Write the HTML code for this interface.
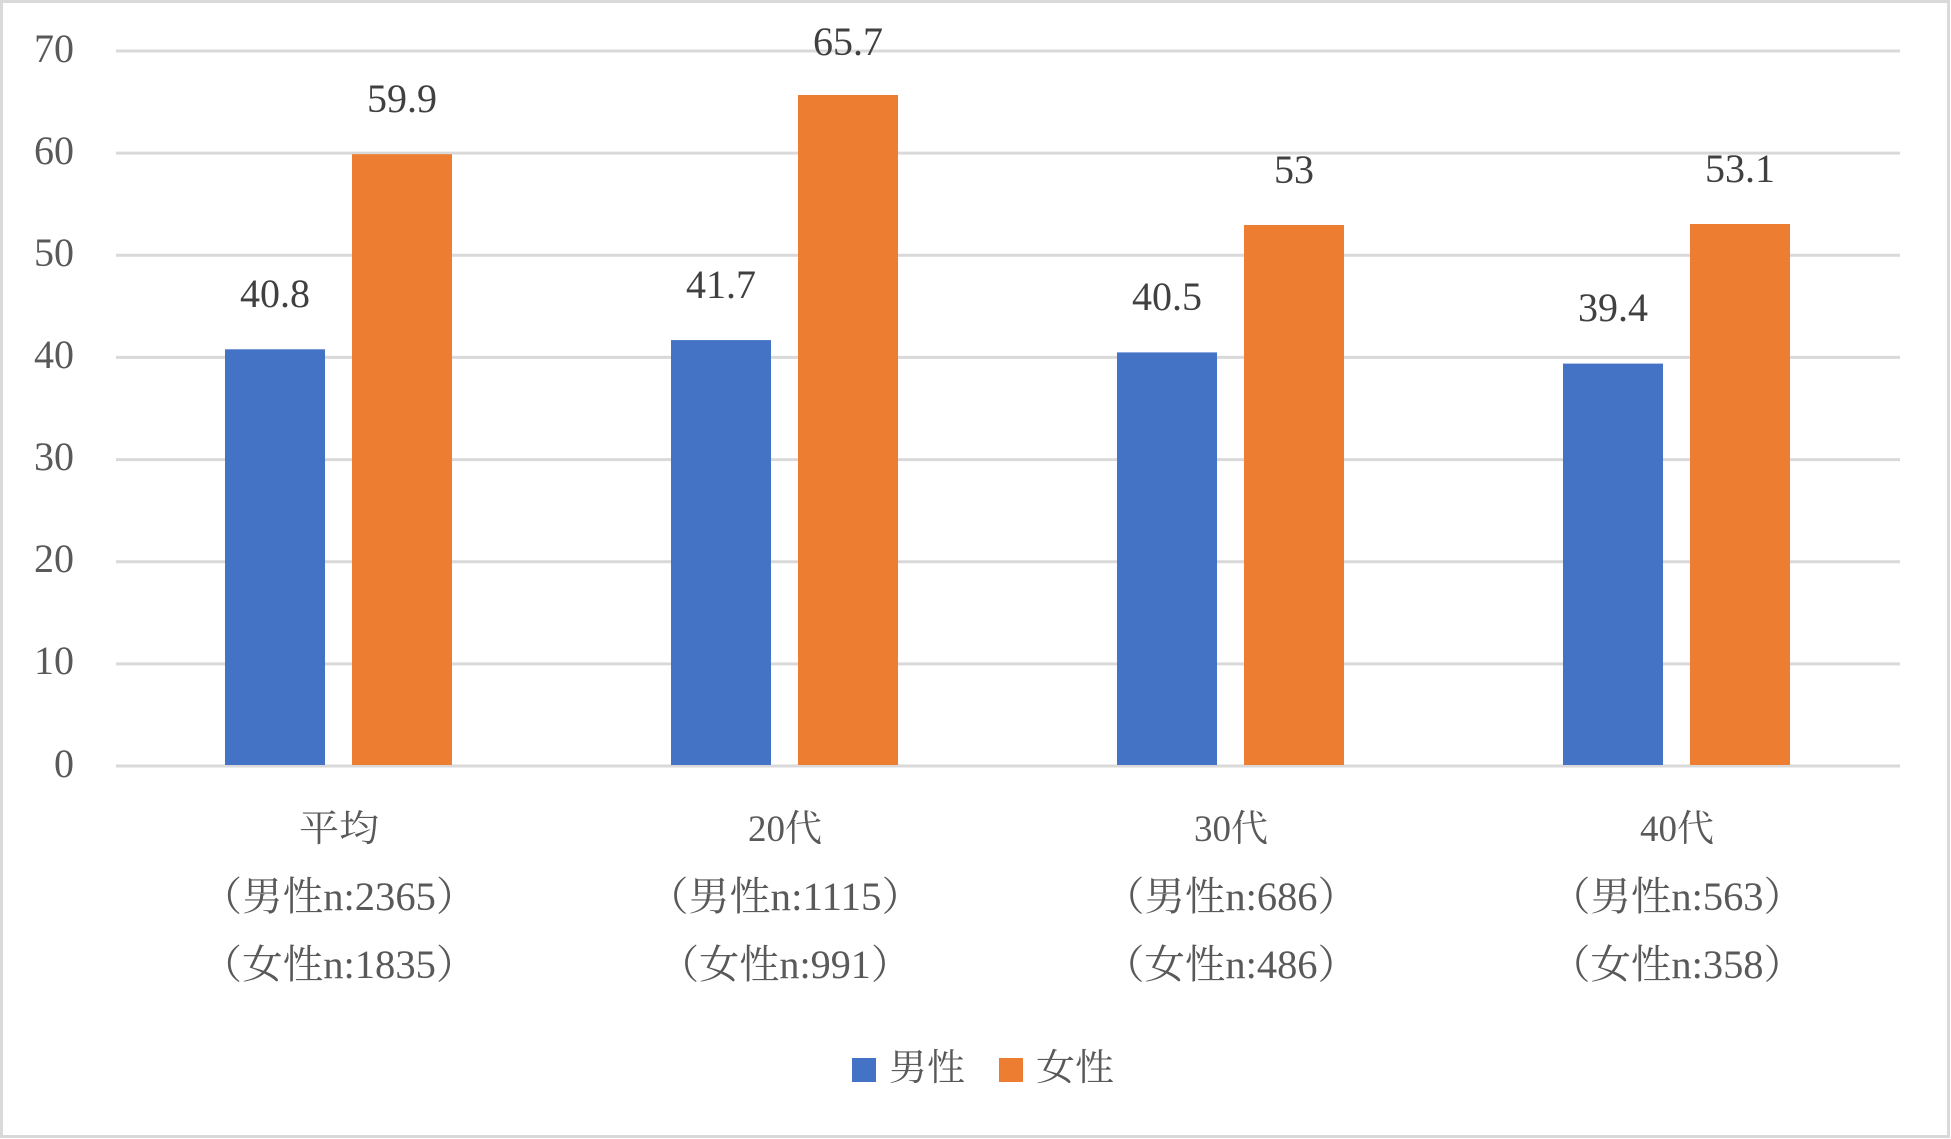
<!DOCTYPE html>
<html><head><meta charset="utf-8"><style>
html,body{margin:0;padding:0;background:#fff;}
svg{display:block;}
text{font-family:"Liberation Serif","Noto Serif CJK SC",serif;}
.t{fill:#595959;font-size:40px;}
.d{fill:#404040;font-size:40px;}
.c{fill:#595959;font-size:37px;}
.p{fill:#595959;font-size:40px;}
</style></head><body>
<svg width="1951" height="1139" viewBox="0 0 1951 1139" xmlns="http://www.w3.org/2000/svg">
<rect x="1.5" y="1.5" width="1947" height="1135" fill="#fff" stroke="#d9d9d9" stroke-width="3"/>
<g stroke="#d9d9d9" stroke-width="3">
<line x1="116" x2="1900" y1="51" y2="51"/>
<line x1="116" x2="1900" y1="153.1" y2="153.1"/>
<line x1="116" x2="1900" y1="255.3" y2="255.3"/>
<line x1="116" x2="1900" y1="357.4" y2="357.4"/>
<line x1="116" x2="1900" y1="459.6" y2="459.6"/>
<line x1="116" x2="1900" y1="561.7" y2="561.7"/>
<line x1="116" x2="1900" y1="663.9" y2="663.9"/>
<line x1="116" x2="1900" y1="766" y2="766"/>
</g>
<g text-anchor="end">
<text x="74" y="62" class="t">70</text>
<text x="74" y="164" class="t">60</text>
<text x="74" y="266" class="t">50</text>
<text x="74" y="368" class="t">40</text>
<text x="74" y="470" class="t">30</text>
<text x="74" y="572" class="t">20</text>
<text x="74" y="674" class="t">10</text>
<text x="74" y="777" class="t">0</text>
</g>
<g>
<rect x="225" y="349.3" width="100" height="415.7" fill="#4472c4"/>
<rect x="352" y="154.2" width="100" height="610.8" fill="#ed7d31"/>
<rect x="671" y="340.1" width="100" height="424.9" fill="#4472c4"/>
<rect x="798" y="95" width="100" height="670" fill="#ed7d31"/>
<rect x="1117" y="352.4" width="100" height="412.6" fill="#4472c4"/>
<rect x="1244" y="225" width="100" height="540" fill="#ed7d31"/>
<rect x="1563" y="363.6" width="100" height="401.4" fill="#4472c4"/>
<rect x="1690" y="224" width="100" height="541" fill="#ed7d31"/>
</g>
<g text-anchor="middle">
<text x="275" y="307" class="d">40.8</text>
<text x="402" y="112" class="d">59.9</text>
<text x="721" y="298" class="d">41.7</text>
<text x="848" y="55" class="d">65.7</text>
<text x="1167" y="310" class="d">40.5</text>
<text x="1294" y="183" class="d">53</text>
<text x="1613" y="321" class="d">39.4</text>
<text x="1740" y="182" class="d">53.1</text>
</g>
<g text-anchor="middle">
<text x="339" y="841" class="c" textLength="80" lengthAdjust="spacingAndGlyphs">平均</text>
<text x="339" y="910" class="p" textLength="275" lengthAdjust="spacingAndGlyphs">（男性n:2365）</text>
<text x="339" y="978" class="p" textLength="275" lengthAdjust="spacingAndGlyphs">（女性n:1835）</text>
<text x="785" y="841" class="c">20代</text>
<text x="785" y="910" class="p" textLength="275" lengthAdjust="spacingAndGlyphs">（男性n:1115）</text>
<text x="785" y="978" class="p" textLength="252" lengthAdjust="spacingAndGlyphs">（女性n:991）</text>
<text x="1231" y="841" class="c">30代</text>
<text x="1231" y="910" class="p" textLength="254" lengthAdjust="spacingAndGlyphs">（男性n:686）</text>
<text x="1231" y="978" class="p" textLength="254" lengthAdjust="spacingAndGlyphs">（女性n:486）</text>
<text x="1677" y="841" class="c">40代</text>
<text x="1677" y="910" class="p" textLength="254" lengthAdjust="spacingAndGlyphs">（男性n:563）</text>
<text x="1677" y="978" class="p" textLength="254" lengthAdjust="spacingAndGlyphs">（女性n:358）</text>
</g>
<rect x="852" y="1058" width="24" height="24" fill="#4472c4"/>
<text x="889" y="1080" class="c" textLength="76" lengthAdjust="spacingAndGlyphs">男性</text>
<rect x="999" y="1058" width="24" height="24" fill="#ed7d31"/>
<text x="1036" y="1080" class="c" textLength="78" lengthAdjust="spacingAndGlyphs">女性</text>
</svg>
</body></html>
